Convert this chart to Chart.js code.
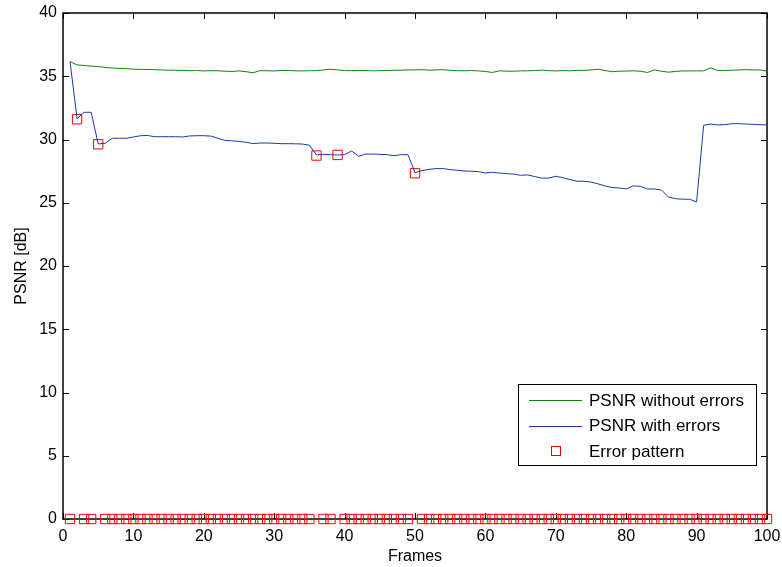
<!DOCTYPE html>
<html>
<head>
<meta charset="utf-8">
<script src="https://cdn.jsdelivr.net/npm/chart.js@4.4.0/dist/chart.umd.min.js"></script>
<style>
  html, body { margin: 0; padding: 0; background: #fff; }
</style>
</head>
<body>
<canvas id="myChart" width="782" height="567"></canvas>
<script>
'use strict';

const ctx = document.getElementById('myChart');

// frame numbers (x axis)
const frames = [
  1, 2, 3, 4, 5, 6, 7, 8, 9, 10, 11, 12, 13, 14, 15, 16, 17, 18, 19, 20,
  21, 22, 23, 24, 25, 26, 27, 28, 29, 30, 31, 32, 33, 34, 35, 36, 37, 38, 39, 40,
  41, 42, 43, 44, 45, 46, 47, 48, 49, 50, 51, 52, 53, 54, 55, 56, 57, 58, 59, 60,
  61, 62, 63, 64, 65, 66, 67, 68, 69, 70, 71, 72, 73, 74, 75, 76, 77, 78, 79, 80,
  81, 82, 83, 84, 85, 86, 87, 88, 89, 90, 91, 92, 93, 94, 95, 96, 97, 98, 99, 100
];

// PSNR without errors
const psnrClean = [
  36.15, 35.90, 35.85, 35.80, 35.76, 35.70, 35.65, 35.62, 35.60, 35.56,
  35.55, 35.53, 35.52, 35.50, 35.48, 35.47, 35.46, 35.44, 35.45, 35.42,
  35.44, 35.43, 35.40, 35.38, 35.42, 35.36, 35.28, 35.44, 35.43, 35.42,
  35.45, 35.46, 35.43, 35.42, 35.44, 35.45, 35.50, 35.55, 35.50, 35.45,
  35.44, 35.46, 35.45, 35.43, 35.44, 35.45, 35.47, 35.48, 35.50, 35.50,
  35.52, 35.48, 35.50, 35.52, 35.47, 35.44, 35.43, 35.45, 35.42, 35.38,
  35.30, 35.43, 35.40, 35.40, 35.42, 35.43, 35.45, 35.48, 35.44, 35.42,
  35.45, 35.43, 35.46, 35.47, 35.50, 35.55, 35.45, 35.36, 35.40, 35.41,
  35.43, 35.40, 35.30, 35.50, 35.40, 35.32, 35.38, 35.42, 35.42, 35.42,
  35.43, 35.66, 35.45, 35.46, 35.48, 35.50, 35.52, 35.50, 35.50, 35.40
];

// PSNR with errors
const psnrErrors = [
  36.15, 31.65, 32.15, 32.15, 29.65, 29.70, 30.10, 30.10, 30.10, 30.20,
  30.30, 30.32, 30.22, 30.22, 30.22, 30.22, 30.20, 30.28, 30.30, 30.30,
  30.27, 30.10, 29.93, 29.90, 29.85, 29.78, 29.68, 29.72, 29.72, 29.70,
  29.67, 29.67, 29.66, 29.64, 29.55, 28.78, 28.83, 28.80, 28.78, 28.80,
  29.09, 28.67, 28.85, 28.85, 28.83, 28.80, 28.72, 28.80, 28.80, 27.38,
  27.54, 27.64, 27.70, 27.70, 27.62, 27.57, 27.51, 27.49, 27.46, 27.35,
  27.41, 27.35, 27.30, 27.27, 27.17, 27.20, 27.07, 26.95, 26.95, 27.09,
  26.98, 26.83, 26.70, 26.70, 26.64, 26.49, 26.33, 26.20, 26.17, 26.09,
  26.33, 26.30, 26.09, 26.09, 26.01, 25.46, 25.32, 25.28, 25.28, 25.06,
  31.12, 31.22, 31.15, 31.17, 31.25, 31.25, 31.22, 31.20, 31.17, 31.15
];

// error pattern markers: PSNR of the hit frame, 0 elsewhere
const errorPattern = [
  0, 31.60, 0, 0, 29.62, 0, 0, 0, 0, 0,
  0, 0, 0, 0, 0, 0, 0, 0, 0, 0,
  0, 0, 0, 0, 0, 0, 0, 0, 0, 0,
  0, 0, 0, 0, 0, 28.73, 0, 0, 28.78, 0,
  0, 0, 0, 0, 0, 0, 0, 0, 0, 27.33,
  0, 0, 0, 0, 0, 0, 0, 0, 0, 0,
  0, 0, 0, 0, 0, 0, 0, 0, 0, 0,
  0, 0, 0, 0, 0, 0, 0, 0, 0, 0,
  0, 0, 0, 0, 0, 0, 0, 0, 0, 0,
  0, 0, 0, 0, 0, 0, 0, 0, 0, 0
];

const seriesNames = ['PSNR without errors', 'PSNR with errors', 'Error pattern'];

function toPoints(values) {
  let points = [];
  for (let i = 0; i < frames.length; i++) {
    points.push({ x: frames[i], y: values[i] });
  }
  return points;
}

Chart.defaults.font.family = '"Liberation Sans", Arial, sans-serif';
Chart.defaults.color = '#000';

// matlab style box with inward ticks
const axesBox = {
  id: 'axesBox',
  beforeDatasetsDraw(chart) {
    const c = chart.ctx;
    const a = chart.chartArea;
    const xs = chart.scales.x;
    const ys = chart.scales.y;
    c.save();
    c.strokeStyle = '#000';
    c.lineWidth = 1;
    c.beginPath();
    xs.ticks.forEach(t => {
      const px = Math.round(xs.getPixelForValue(t.value)) + 0.5;
      c.moveTo(px, a.bottom); c.lineTo(px, a.bottom - 6);
      c.moveTo(px, a.top); c.lineTo(px, a.top + 6);
    });
    ys.ticks.forEach(t => {
      const py = Math.round(ys.getPixelForValue(t.value)) + 0.5;
      c.moveTo(a.left, py); c.lineTo(a.left + 6, py);
      c.moveTo(a.right, py); c.lineTo(a.right - 6, py);
    });
    c.stroke();
    c.lineWidth = 1.5;
    c.strokeRect(a.left, a.top, a.right - a.left, a.bottom - a.top);
    c.restore();
  }
};

// legend box inside the plot, lower right
const boxLegend = {
  id: 'boxLegend',
  afterDraw(chart) {
    const c = chart.ctx;
    const left = 518, top = 384, w = 238, h = 81;
    c.save();
    c.fillStyle = '#fff';
    c.fillRect(left, top, w, h);
    c.strokeStyle = '#000';
    c.lineWidth = 1;
    c.strokeRect(left + 0.5, top + 0.5, w, h);
    c.font = '17px "Liberation Sans", Arial, sans-serif';
    c.textBaseline = 'middle';
    chart.data.datasets.forEach((ds, i) => {
      const yy = top + 16 + i * 25.5;
      c.strokeStyle = ds.borderColor;
      c.lineWidth = 1;
      if (ds.showLine === false) {
        c.strokeRect(551.5, Math.round(yy) - 4.5, 9, 9);
      } else {
        c.beginPath();
        c.moveTo(529, Math.round(yy) + 0.5);
        c.lineTo(582, Math.round(yy) + 0.5);
        c.stroke();
      }
      c.fillStyle = '#000';
      c.fillText(ds.label, 589, yy + 1);
    });
    c.restore();
  }
};

new Chart(ctx, {
  type: 'line',
  data: {
    datasets: [{
      label: seriesNames[0],
      data: toPoints(psnrClean),
      borderColor: '#0a850a',
      borderWidth: 1,
      pointRadius: 0,
      tension: 0
    }, {
      label: seriesNames[1],
      data: toPoints(psnrErrors),
      borderColor: '#1a36a8',
      borderWidth: 1,
      pointRadius: 0,
      tension: 0
    }, {
      label: seriesNames[2],
      data: toPoints(errorPattern),
      showLine: false,
      borderColor: '#ff0000',
      backgroundColor: 'rgba(0,0,0,0)',
      pointStyle: 'rect',
      pointRadius: 6.6,
      pointBorderWidth: 1,
      clip: false
    }]
  },
  options: {
    responsive: false,
    animation: false,
    layout: { padding: { left: 0, top: 13, right: 15, bottom: 0 } },
    plugins: {
      legend: { display: false },
      tooltip: { enabled: false }
    },
    scales: {
      x: {
        type: 'linear',
        min: 0,
        max: 100,
        grid: { display: false, drawTicks: false },
        border: { display: false },
        ticks: { stepSize: 10, padding: 8, font: { size: 16 } },
        title: { display: true, text: 'Frames', font: { size: 16 }, padding: { top: 0, bottom: 1 } },
        afterFit(scale) {
          scale.height = 48;
          scale.paddingLeft = 0;
          scale.paddingRight = 0;
        }
      },
      y: {
        min: 0,
        max: 40,
        grid: { display: false, drawTicks: false },
        border: { display: false },
        ticks: { stepSize: 5, padding: 6, font: { size: 16 } },
        title: { display: true, text: 'PSNR [dB]', font: { size: 16 }, padding: { top: 12, bottom: 0 } },
        afterFit(scale) {
          scale.width = 63;
          scale.paddingTop = 0;
          scale.paddingBottom = 0;
        }
      }
    }
  },
  plugins: [axesBox, boxLegend]
});
</script>
</body>
</html>
